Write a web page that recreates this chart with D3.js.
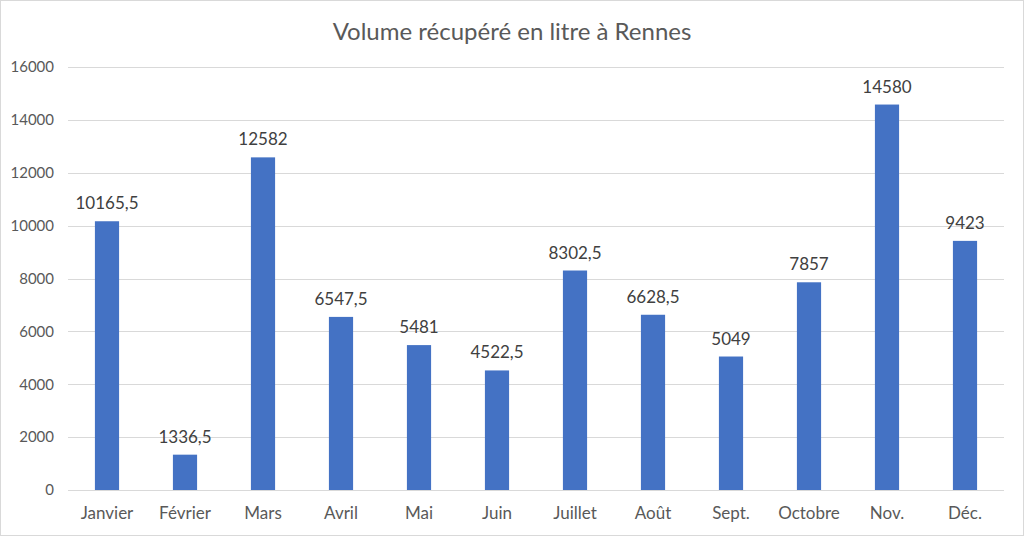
<!DOCTYPE html>
<html><head><meta charset="utf-8">
<script src="https://cdn.jsdelivr.net/npm/d3@7"></script>
<style>body{margin:0;background:#fff}svg{display:block}text{font-family:Lato,"Open Sans",sans-serif}</style>
</head><body>
<svg id="c" width="1024" height="536"></svg>
<script>
const categories = ["Janvier","Février","Mars","Avril","Mai","Juin","Juillet","Août","Sept.","Octobre","Nov.","Déc."];
const values = [10165.5,1336.5,12582,6547.5,5481,4522.5,8302.5,6628.5,5049,7857,14580,9423];
const labels = ["10165,5","1336,5","12582","6547,5","5481","4522,5","8302,5","6628,5","5049","7857","14580","9423"];
const yTicks = [0,2000,4000,6000,8000,10000,12000,14000,16000];
const title = "Volume récupéré en litre à Rennes";

const svg = d3.select("#c");
const W=1024,H=536;
const m={l:68,r:20,t:67,b:46};
svg.append("rect").attr("x",0.5).attr("y",0.5).attr("width",W-1).attr("height",H-1).attr("fill","#fff").attr("stroke","#d9d9d9");
const x=d3.scaleBand().domain(categories).range([m.l,W-m.r]).paddingInner(0.69).paddingOuter(0.345);
const y=d3.scaleLinear().domain([0,16000]).range([H-m.b,m.t]);

svg.append("g").selectAll("line").data(yTicks).join("line")
 .attr("x1",m.l).attr("x2",W-m.r).attr("y1",d=>Math.round(y(d))+0.5).attr("y2",d=>Math.round(y(d))+0.5)
 .attr("stroke","#d9d9d9").attr("stroke-width",1);

const ya=svg.append("g").attr("transform",`translate(${m.l},0)`).call(d3.axisLeft(y).tickValues(yTicks).tickSize(0).tickPadding(14).tickFormat(d=>String(d)));
ya.select(".domain").remove();
ya.selectAll("text").attr("fill","#595959").style("font-size","15px").style("font-family","Lato,sans-serif");

const xa=svg.append("g").attr("transform",`translate(0,${H-m.b})`).call(d3.axisBottom(x).tickSize(0).tickPadding(17));
xa.select(".domain").remove();
xa.selectAll("text").attr("fill","#595959").style("font-size","17px").style("font-family","Lato,sans-serif");

svg.append("g").selectAll("rect").data(values).join("rect")
 .attr("x",(d,i)=>x(categories[i])).attr("width",x.bandwidth())
 .attr("y",d=>y(d)).attr("height",d=>y(0)-y(d)).attr("fill","#4472c4");

svg.append("g").selectAll("text").data(values).join("text")
 .attr("x",(d,i)=>x(categories[i])+x.bandwidth()/2).attr("y",d=>y(d)-12)
 .attr("text-anchor","middle").attr("fill","#404040").style("font-size","17px").text((d,i)=>labels[i]);

svg.append("text").attr("x",512).attr("y",40).attr("text-anchor","middle").attr("fill","#595959").style("font-size","24px").text(title);
</script>
</body></html>
